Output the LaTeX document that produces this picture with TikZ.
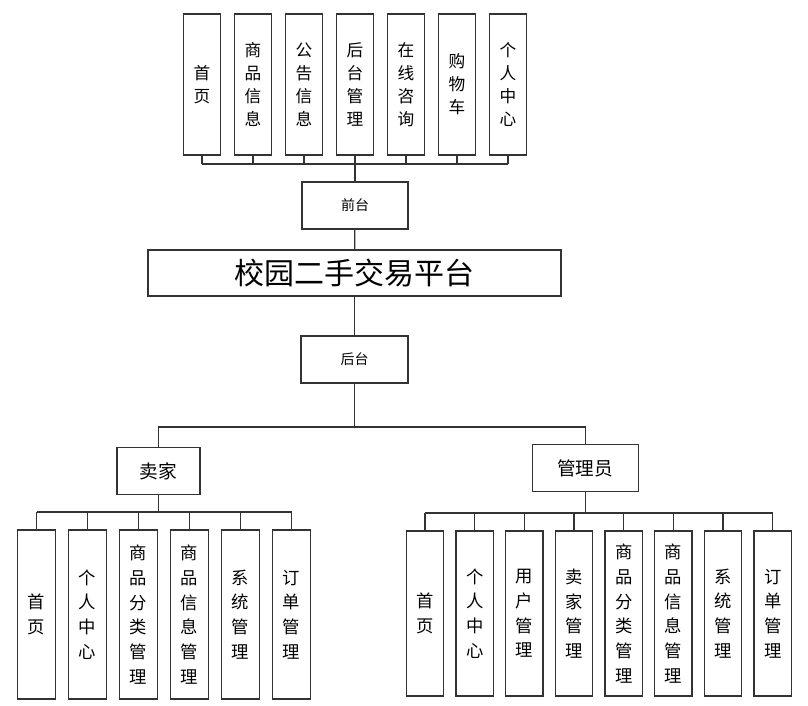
\documentclass[tikz,border=0pt]{standalone}
\usepackage{fontspec}
\setmainfont{Noto Sans CJK SC}
\newcommand{\vtxt}{\fontsize{12.5}{17.25}\selectfont}
\newcommand{\btxt}{\fontsize{13}{18.5}\selectfont}

\begin{document}
\begin{tikzpicture}[x=0.75pt,y=-0.75pt,
  line width=0.9pt,
  box/.style={draw=black!80,line width=0.9pt,inner sep=0pt,align=center},
  topbox/.style={box,minimum width=27.75pt,minimum height=105.75pt,font=\vtxt},
  sellbox/.style={box,minimum width=28pt,minimum height=126.75pt,font=\btxt},
  admbox/.style={box,minimum width=28pt,minimum height=123.75pt,font=\btxt},
  link/.style={draw=black!80}]
   \useasboundingbox (0,0) rectangle (808,706);
   % front end
   \foreach \lab [count=\i] in {{首\\页},{商\\品\\信\\息},{公\\告\\信\\息},{后\\台\\管\\理},
                               {在\\线\\咨\\询},{购\\物\\车},{个\\人\\中\\心}}
     \node[topbox] (t\i) at ({202+51*(\i-1)},84.5) {\lab};
   \node[box,minimum width=79.5pt,minimum height=35.25pt,font=\fontsize{10.5}{12}\selectfont]
     (front) at (355,205.5) {前台};
   \coordinate (topbus) at (355,164);
   \foreach \i in {1,...,7}
     \draw[link] (t\i.south) -- (t\i.south |- topbus);
   \draw[link] (t1.south |- topbus) -- (t7.south |- topbus);
   \draw[link,line width=1.6pt] (topbus) -- (front.north);
   % platform
   \node[box,minimum width=309.75pt,minimum height=34.5pt,font=\fontsize{22.5}{24}\selectfont]
     (plat) at (354.5,273) {校园二手交易平台};
   \node[box,minimum width=80.25pt,minimum height=35.25pt,font=\fontsize{10.5}{12}\selectfont]
     (back) at (354.5,359.5) {后台};
   \draw[link] (front) -- (plat);
   \draw[link] (plat) -- (back);
   % seller and admin
   \node[box,minimum width=62.25pt,minimum height=35.25pt,font=\fontsize{14}{16}\selectfont]
     (seller) at (158.5,471) {卖家};
   \node[box,minimum width=79.5pt,minimum height=35.25pt,font=\fontsize{14}{16}\selectfont]
     (admin) at (585.3,468) {管理员};
   \coordinate (midbus) at (354.5,427);
   \draw[link] (back) -- (midbus);
   \draw[link] (seller.north) |- (midbus) -| (admin.north);
   % seller items
   \foreach \lab [count=\i] in {{首\\页},{个\\人\\中\\心},{商\\品\\分\\类\\管\\理},
                               {商\\品\\信\\息\\管\\理},{系\\统\\管\\理},{订\\单\\管\\理}}
     \node[sellbox] (s\i) at ({36.5+51*(\i-1)},614.5) {\lab};
   \coordinate (sbus) at (158.5,512);
   \draw[link,line width=1.4pt] (seller) -- (sbus);
   \foreach \i in {1,...,6}
     \draw[link] (s\i.north) -- (s\i.north |- sbus);
   \draw[link] (s1.north |- sbus) -- (s6.north |- sbus);
   % admin items
   \foreach \lab [count=\i] in {{首\\页},{个\\人\\中\\心},{用\\户\\管\\理},{卖\\家\\管\\理},
                               {商\\品\\分\\类\\管\\理},{商\\品\\信\\息\\管\\理},{系\\统\\管\\理},{订\\单\\管\\理}}
     \node[admbox] (a\i) at ({425+49.67*(\i-1)},613.5) {\lab};
   \coordinate (abus) at (585.3,513);
   \draw[link] (admin) -- (abus);
   \foreach \i in {1,...,8}
     \draw[link] (a\i.north) -- (a\i.north |- abus);
   \draw[link] (a1.north |- abus) -- (a8.north |- abus);
\end{tikzpicture}
\end{document}
